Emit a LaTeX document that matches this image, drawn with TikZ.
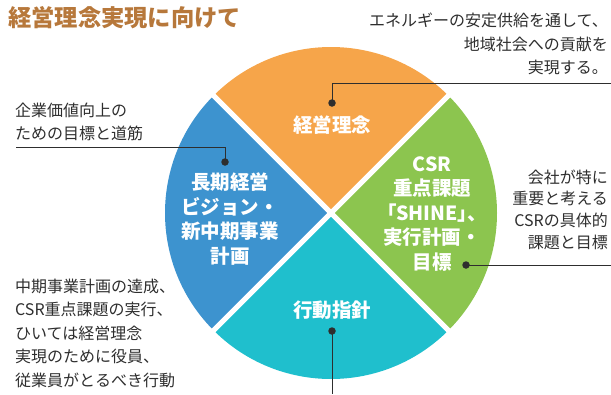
\documentclass[tikz,border=0pt]{standalone}
\usepackage{fontspec}
\setmainfont{Noto Sans CJK JP}
\definecolor{cOrange}{HTML}{F6A54A}
\definecolor{cGreen}{HTML}{8CC54F}
\definecolor{cTeal}{HTML}{1FBFCD}
\definecolor{cBlue}{HTML}{3D93CF}
\definecolor{cTitle}{HTML}{B7783B}
\definecolor{cText}{HTML}{2E2E2E}
\begin{document}
\begin{tikzpicture}[x=1pt,y=-1pt,
  body/.style={inner sep=0pt, text=cText, font=\fontsize{16}{23.5}\selectfont},
  wedge/.style={inner sep=0pt, text=white, align=center, font=\bfseries\fontsize{19.5}{24.5}\selectfont},
  dot/.style={circle, fill=cText, inner sep=0pt, minimum size=7.5pt},
  lead/.style={draw=cText, line width=1pt},
  gap/.style={draw=white, line width=5pt}]
\useasboundingbox (0,0) rectangle (611,394);
\coordinate (C) at (331,213);
\def\R{166}
% sectors
\fill[cOrange] (C) -- +(-135:\R) arc[start angle=-135,end angle=-45,radius=\R] -- cycle;
\fill[cGreen]  (C) -- +(-45:\R)  arc[start angle=-45,end angle=45,radius=\R] -- cycle;
\fill[cTeal]   (C) -- +(45:\R)   arc[start angle=45,end angle=135,radius=\R] -- cycle;
\fill[cBlue]   (C) -- +(135:\R)  arc[start angle=135,end angle=225,radius=\R] -- cycle;
% white gaps
\draw[gap] (C) +(-135:175) -- +(45:175);
\draw[gap] (C) +(135:175) -- +(-45:175);
% title
\node[font=\bfseries\fontsize{23.3}{24}\selectfont, text=cTitle, anchor=west, inner sep=0pt] (title) at (8,18) {経営理念実現に向けて};
% annotations
\node[body, align=right, anchor=east] (tr) at (608,44) {エネルギーの安定供給を通して、\\地域社会への貢献を\\実現する。};
\node[body, align=left, anchor=west] (tl) at (15,122) {企業価値向上の\\ための目標と道筋};
\node[body, align=right, anchor=east, font=\fontsize{16}{21.7}\selectfont] (rt) at (608,209.5) {会社が特に\\重要と考える\\CSRの具体的\\課題と目標};
\node[body, align=left, anchor=west] (bl) at (15,333) {中期事業計画の達成、\\CSR重点課題の実行、\\ひいては経営理念\\実現のために役員、\\従業員がとるべき行動};
% wedge labels
\node[wedge] (w1) at (332,125) {経営理念};
\node[wedge] (w2) at (230,219) {長期経営\\ビジョン・\\新中期事業\\計画};
\node[wedge] (w3) at (432,214) {CSR\\重点課題\\{\addfontfeature{RawFeature=+palt}「SHINE」、}\\実行計画・\\目標};
\node[wedge] (w4) at (332,310) {行動指針};
% leaders
\node[dot] (d1) at (332,103) {};
\node[dot] (d2) at (225,162) {};
\node[dot] (d3) at (466,265) {};
\node[dot] (d4) at (332,331) {};
\coordinate (e1) at (611,83);
\coordinate (e2) at (16,147.5);
\coordinate (e3) at (611,265);
\coordinate (e4) at (332,394);
\draw[lead] (d1.center) |- (e1);
\draw[lead] (d2.center) |- (e2);
\draw[lead] (d3.center) -- (e3);
\draw[lead] (d4.center) -- (e4);
\end{tikzpicture}
\end{document}
